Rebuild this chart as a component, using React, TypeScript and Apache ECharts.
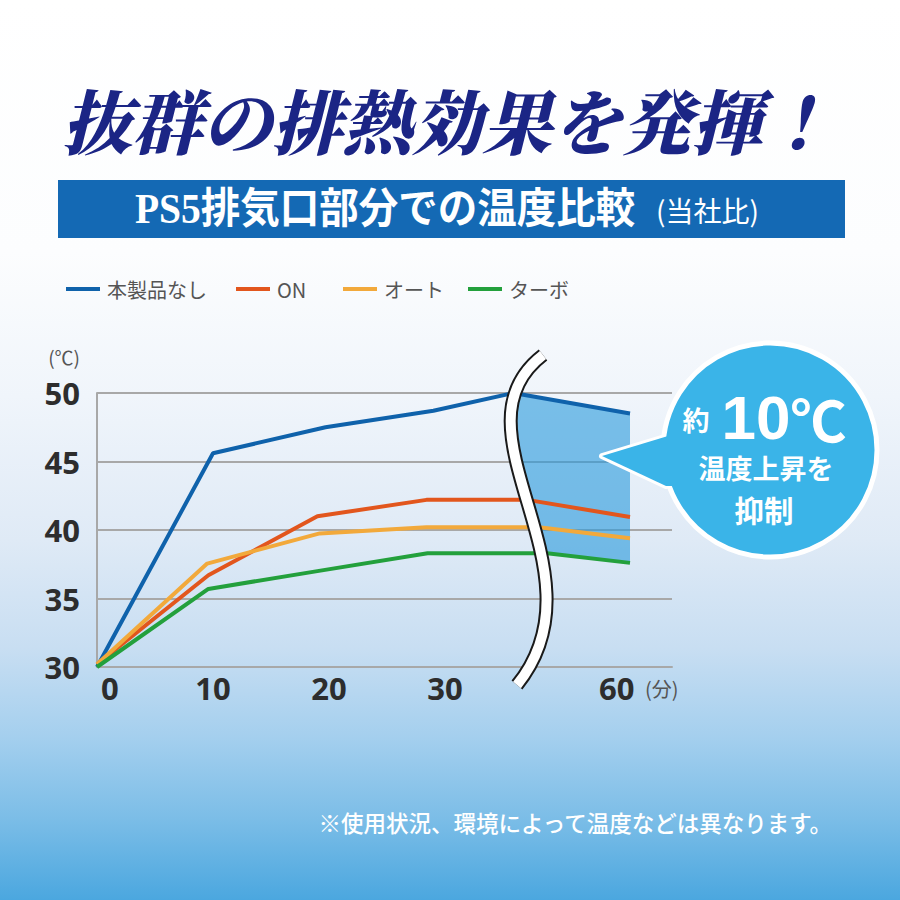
import React, { useEffect, useRef } from 'react';
import * as echarts from 'echarts';

// ---- data ----
const seriesNames = ['本製品なし', 'ON', 'オート', 'ターボ'];
const seriesColors = ['#0f62ab', '#e2561d', '#f2a93b', '#23a03c'];
// x in axis units: 10 units per 10 minutes; the axis is broken between 30 and 60
const blueX = [0, 10, 19.7, 29.0, 35.9, 45.95];
const blueY = [30, 45.6, 47.5, 48.7, 50, 48.5];
const onX = [0, 9.6, 19.0, 28.4, 37.1, 45.95];
const onY = [30.2, 36.7, 41.0, 42.2, 42.2, 40.95];
const autoX = [0, 9.5, 19.2, 28.4, 38.1, 45.95];
const autoY = [30.2, 37.55, 39.75, 40.2, 40.2, 39.4];
const turboX = [0, 9.6, 19.0, 28.5, 38.8, 45.95];
const turboY = [30, 35.7, 37.0, 38.3, 38.3, 37.6];
const xTickPos = [1.1, 10, 20, 30, 44.8];
const xTickLabels = ['0', '10', '20', '30', '60'];
const yMin = 30;
const yMax = 50;
const yStep = 5;
const legendLeft = [66, 236, 343, 468];

const allX = [blueX, onX, autoX, turboX];
const allY = [blueY, onY, autoY, turboY];

// break mark geometry (decoration)
const BRK = { x1: 543, y1: 355, cpx1: 445, cpy1: 430, cpx2: 610, cpy2: 570, x2: 517, y2: 685 };
const bez = (t: number) => {
  const a = (1 - t) ** 3, b = 3 * t * (1 - t) ** 2, c = 3 * t * t * (1 - t), d = t ** 3;
  return [
    a * BRK.x1 + b * BRK.cpx1 + c * BRK.cpx2 + d * BRK.x2,
    a * BRK.y1 + b * BRK.cpy1 + c * BRK.cpy2 + d * BRK.y2,
  ];
};

const CJK = "'Noto Sans CJK JP', 'Noto Sans', sans-serif";
const NUM = "'Liberation Sans Narrow', 'Open Sans', 'Noto Sans', sans-serif";

export default function App() {
  const ref = useRef<HTMLDivElement>(null);
  useEffect(() => {
    const chart = echarts.init(ref.current!, null, { renderer: 'svg' });
    const lineSeries = seriesNames.map((name, i) => ({
      name,
      type: 'line',
      data: allX[i].map((x, j) => [x, allY[i][j]]),
      symbol: 'none',
      lineStyle: { width: 4, color: seriesColors[i] },
      itemStyle: { color: seriesColors[i] },
      z: 3,
    }));
    const fillSeries = {
      type: 'custom',
      name: 'gap',
      data: [[0, 30]],
      z: 2,
      silent: true,
      renderItem: (_p: any, api: any) => {
        const b4 = api.coord([blueX[4], blueY[4]]);
        const b5 = api.coord([blueX[5], blueY[5]]);
        const g4 = api.coord([turboX[4], turboY[4]]);
        const g5 = api.coord([turboX[5], turboY[5]]);
        const lineYAt = (p: number[], q: number[], x: number) => p[1] + ((q[1] - p[1]) * (x - p[0])) / (q[0] - p[0]);
        const inside: number[][] = [];
        for (let i = 0; i <= 200; i++) {
          const c = bez(i / 200);
          if (c[1] >= lineYAt(b4, b5, c[0]) && c[1] <= lineYAt(g4, g5, c[0])) inside.push(c);
        }
        return {
          type: 'polygon',
          shape: { points: [...inside, g5, b5] },
          style: { fill: 'rgba(40,154,220,0.6)' },
        };
      },
    };
    const option: any = {
      animation: false,
      grid: { left: 97, right: 228, top: 393, bottom: 233 },
      legend: seriesNames.map((n, i) => ({
        data: [n],
        left: legendLeft[i],
        top: 279,
        padding: 0,
        icon: 'rect',
        itemWidth: 34,
        itemHeight: 4,
        selectedMode: false,
        textStyle: { fontSize: 20, color: '#555', fontFamily: CJK, padding: [0, 0, 0, 2] },
      })),
      xAxis: {
        type: 'value',
        min: 0,
        max: 49.57,
        splitLine: { show: false },
        axisTick: { show: false },
        axisLine: { show: true, lineStyle: { color: '#a8a8a8', width: 2 } },
        axisLabel: {
          customValues: xTickPos,
          formatter: (v: number) => {
            const k = xTickPos.findIndex((p) => Math.abs(p - v) < 0.01);
            return k >= 0 ? xTickLabels[k] : '';
          },
          fontSize: 31,
          fontWeight: 'bold',
          color: '#2d2d2d',
          fontFamily: NUM,
          margin: 5,
        },
      },
      yAxis: {
        type: 'value',
        min: yMin,
        max: yMax,
        interval: yStep,
        axisLine: { show: true, lineStyle: { color: '#a8a8a8', width: 2 } },
        axisTick: { show: false },
        splitLine: { show: true, lineStyle: { color: '#a8a8a8', width: 2 } },
        axisLabel: { fontSize: 31, fontWeight: 'bold', color: '#2d2d2d', fontFamily: NUM, margin: 17 },
      },
      series: [fillSeries, ...lineSeries],
      graphic: [
        {
          type: 'text',
          x: 447,
          y: 118,
          z: 50,
          style: {
            text: '抜群の排熱効果を発揮！',
            fontSize: 70,
            fontWeight: 900,
            fontStyle: 'italic',
            fontFamily: "'Noto Serif CJK JP', " + CJK,
            fill: '#1b2585',
            align: 'center',
            verticalAlign: 'middle',
          },
        },
        { type: 'rect', z: 50, shape: { x: 58, y: 180, width: 787, height: 58 }, style: { fill: '#1469b4' } },
        {
          type: 'text',
          x: 135,
          y: 209,
          scaleY: 1.06,
          originX: 0,
          originY: 0,
          z: 51,
          style: {
            text: 'PS5排気口部分での温度比較',
            fontSize: 39.5,
            fontWeight: 'bold',
            fontFamily: "'Liberation Serif', " + CJK,
            fill: '#ffffff',
            align: 'left',
            verticalAlign: 'middle',
          },
        },
        {
          type: 'text',
          x: 656,
          y: 210,
          z: 51,
          style: {
            text: '(当社比)',
            fontSize: 28,
            fontFamily: CJK,
            fill: '#ffffff',
            align: 'left',
            verticalAlign: 'middle',
          },
        },
        {
          type: 'text',
          x: 80,
          y: 356,
          z: 51,
          style: { text: '(℃)', fontSize: 19, fontFamily: CJK, fill: '#555', align: 'right', verticalAlign: 'middle' },
        },
        {
          type: 'text',
          x: 645,
          y: 688,
          z: 51,
          style: { text: '(分)', fontSize: 20, fontFamily: CJK, fill: '#555', align: 'left', verticalAlign: 'middle' },
        },
        // axis break mark
        {
          type: 'bezierCurve',
          z: 60,
          shape: { ...BRK },
          style: { stroke: '#1a1a1a', lineWidth: 14, fill: 'none' },
        },
        {
          type: 'bezierCurve',
          z: 61,
          shape: { ...BRK },
          style: { stroke: '#ffffff', lineWidth: 10, fill: 'none' },
        },
        // speech bubble
        {
          type: 'polygon',
          z: 70,
          shape: { points: [[602, 456], [668, 436], [666, 486]] },
          style: { fill: '#3ab4e8', stroke: '#ffffff', lineWidth: 6, lineJoin: 'round' },
        },
        {
          type: 'circle',
          z: 71,
          shape: { cx: 770, cy: 450, r: 107 },
          style: { fill: '#3ab4e8', stroke: '#ffffff', lineWidth: 5 },
        },
        {
          type: 'polygon',
          z: 72,
          shape: { points: [[602, 456], [668, 436], [700, 436], [700, 486], [666, 486]] },
          style: { fill: '#3ab4e8' },
        },
        {
          type: 'text',
          x: 696,
          y: 419,
          z: 80,
          style: { text: '約', fontSize: 27, fontWeight: 'bold', fontFamily: CJK, fill: '#fff', align: 'center', verticalAlign: 'middle' },
        },
        {
          type: 'text',
          x: 784,
          y: 417,
          z: 80,
          style: {
            text: '{a|10}{b|℃}',
            align: 'center',
            verticalAlign: 'middle',
            rich: {
              a: { fontSize: 62, fontWeight: 'bold', fontFamily: "'Liberation Sans', Roboto, sans-serif", fill: '#fff' },
              b: { fontSize: 56, fontWeight: 'bold', fontFamily: CJK, fill: '#fff' },
            },
          },
        },
        {
          type: 'text',
          x: 766,
          y: 467,
          z: 80,
          style: {
            text: '温度上昇を',
            fontSize: 27,
            lineHeight: 27,
            fontWeight: 'bold',
            fontFamily: CJK,
            fill: '#fff',
            align: 'center',
            verticalAlign: 'middle',
          },
        },
        {
          type: 'text',
          x: 764,
          y: 509,
          z: 80,
          style: {
            text: '抑制',
            fontSize: 29.5,
            lineHeight: 29.5,
            fontWeight: 'bold',
            fontFamily: CJK,
            fill: '#fff',
            align: 'center',
            verticalAlign: 'middle',
          },
        },
        {
          type: 'text',
          x: 832,
          y: 822,
          z: 80,
          style: {
            text: '※使用状況、環境によって温度などは異なります。',
            fontSize: 22.5,
            fontWeight: 500,
            fontFamily: CJK,
            fill: '#ffffff',
            align: 'right',
            verticalAlign: 'middle',
          },
        },
      ],
    };
    chart.setOption(option);
    return () => chart.dispose();
  }, []);
  return (
    <div
      ref={ref}
      style={{
        position: 'absolute',
        left: 0,
        top: 0,
        width: 900,
        height: 900,
        background:
          'linear-gradient(to bottom, #ffffff 0%, #fcfdfe 28%, #f0f5fb 44%, #dfeaf6 60%, #c8def2 72%, #a4cfee 82%, #7bbde7 91%, #4ba7df 100%)',
      }}
    />
  );
}
